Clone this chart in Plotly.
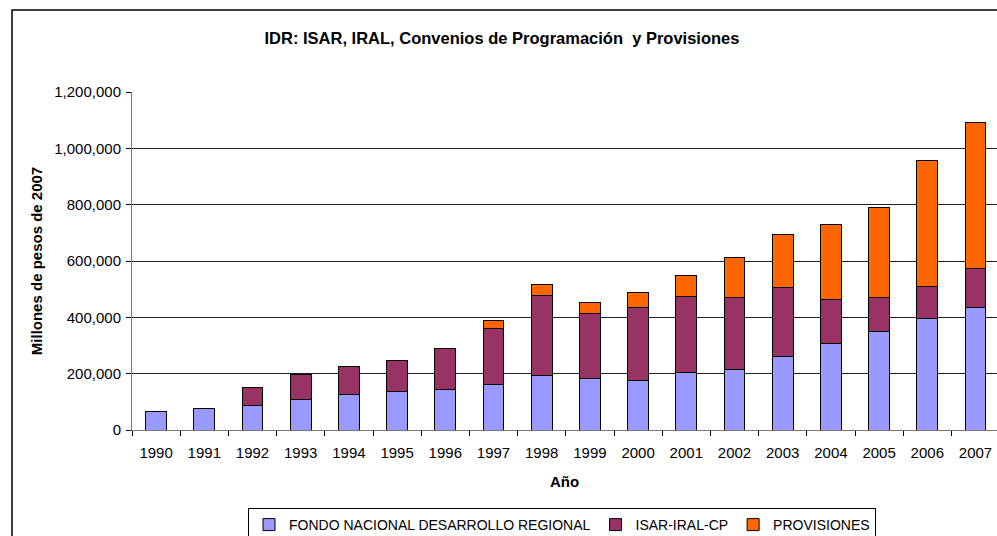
import plotly.graph_objects as go

years = ["1990", "1991", "1992", "1993", "1994", "1995", "1996", "1997", "1998",
         "1999", "2000", "2001", "2002", "2003", "2004", "2005", "2006", "2007"]
fndr = [67000, 75000, 87000, 108000, 125000, 138000, 145000, 162000, 195000,
        183000, 175000, 203000, 216000, 262000, 308000, 350000, 395000, 435000]
isar = [0, 0, 65000, 88000, 100000, 108000, 143000, 200000, 284000,
        229000, 259000, 271000, 256000, 243000, 155000, 122000, 115000, 138000]
prov = [0, 0, 0, 0, 0, 0, 0, 26000, 38000,
        42000, 53000, 76000, 142000, 189000, 265000, 319000, 448000, 519000]

series_names = ["FONDO NACIONAL DESARROLLO REGIONAL", "ISAR-IRAL-CP", "PROVISIONES"]
series_colors = ["#9999FF", "#993366", "#FF6600"]
series_values = [fndr, isar, prov]

FONT = "Arial, Liberation Sans, sans-serif"

fig = go.Figure()
for name, color, vals in zip(series_names, series_colors, series_values):
    fig.add_trace(go.Bar(
        x=years, y=vals, name=name,
        marker=dict(color=color, line=dict(color="black", width=1)),
    ))

L, T, B = 132, 92, 106
W, H = 997, 536
pw = W - L
ph = H - T - B

def px_x(p):
    return (p - L) / pw

def px_y(p):
    return (H - B - p) / ph

fig.update_layout(
    width=W, height=H,
    margin=dict(l=L, r=0, t=T, b=B, autoexpand=False),
    barmode="stack",
    bargap=0.57,
    paper_bgcolor="white",
    plot_bgcolor="white",
    font=dict(family=FONT, size=15, color="black"),
    title=dict(
        text="<b>IDR: ISAR, IRAL, Convenios de Programación  y Provisiones</b>",
        font=dict(family=FONT, size=16.5, color="black"),
        x=502 / W, xref="container", xanchor="center",
        y=1 - 38 / H, yref="container", yanchor="middle",
    ),
    xaxis=dict(
        type="category",
        range=[-0.5, -0.5 + pw / 48.2],
        showline=True, linecolor="#777777", linewidth=1,
        ticks="outside", tickson="boundaries", ticklen=5, tickcolor="black",
        ticklabelstandoff=9,
        showgrid=False,
        tickfont=dict(size=15),
        title=dict(text="<b>Año</b>", font=dict(size=15), standoff=16),
    ),
    yaxis=dict(
        range=[0, 1200000], dtick=200000, tickformat=",d",
        showline=True, linecolor="#777777", linewidth=1,
        ticks="outside", ticklen=5, tickcolor="black",
        ticklabelstandoff=2,
        showgrid=True, gridcolor="#222222", gridwidth=1,
        zeroline=False,
        tickfont=dict(size=15),
        title=dict(text="<b>Millones de pesos de 2007</b>", font=dict(size=15), standoff=8),
    ),
    legend=dict(
        orientation="h",
        x=px_x(562), xanchor="center",
        y=px_y(508), yanchor="top",
        bordercolor="black", borderwidth=1,
        font=dict(size=14),
        traceorder="normal",
        itemwidth=30,
    ),
    showlegend=True,
    shapes=[dict(
        type="rect", xref="paper", yref="paper",
        x0=px_x(12), x1=px_x(1010), y0=px_y(10), y1=px_y(560),
        line=dict(color="black", width=1.5), fillcolor="rgba(0,0,0,0)",
        layer="below",
    )],
)

fig.write_html(
    "out.html",
    config={"displayModeBar": False},
    post_script="document.body.style.margin='0';document.body.style.overflow='hidden';",
)
